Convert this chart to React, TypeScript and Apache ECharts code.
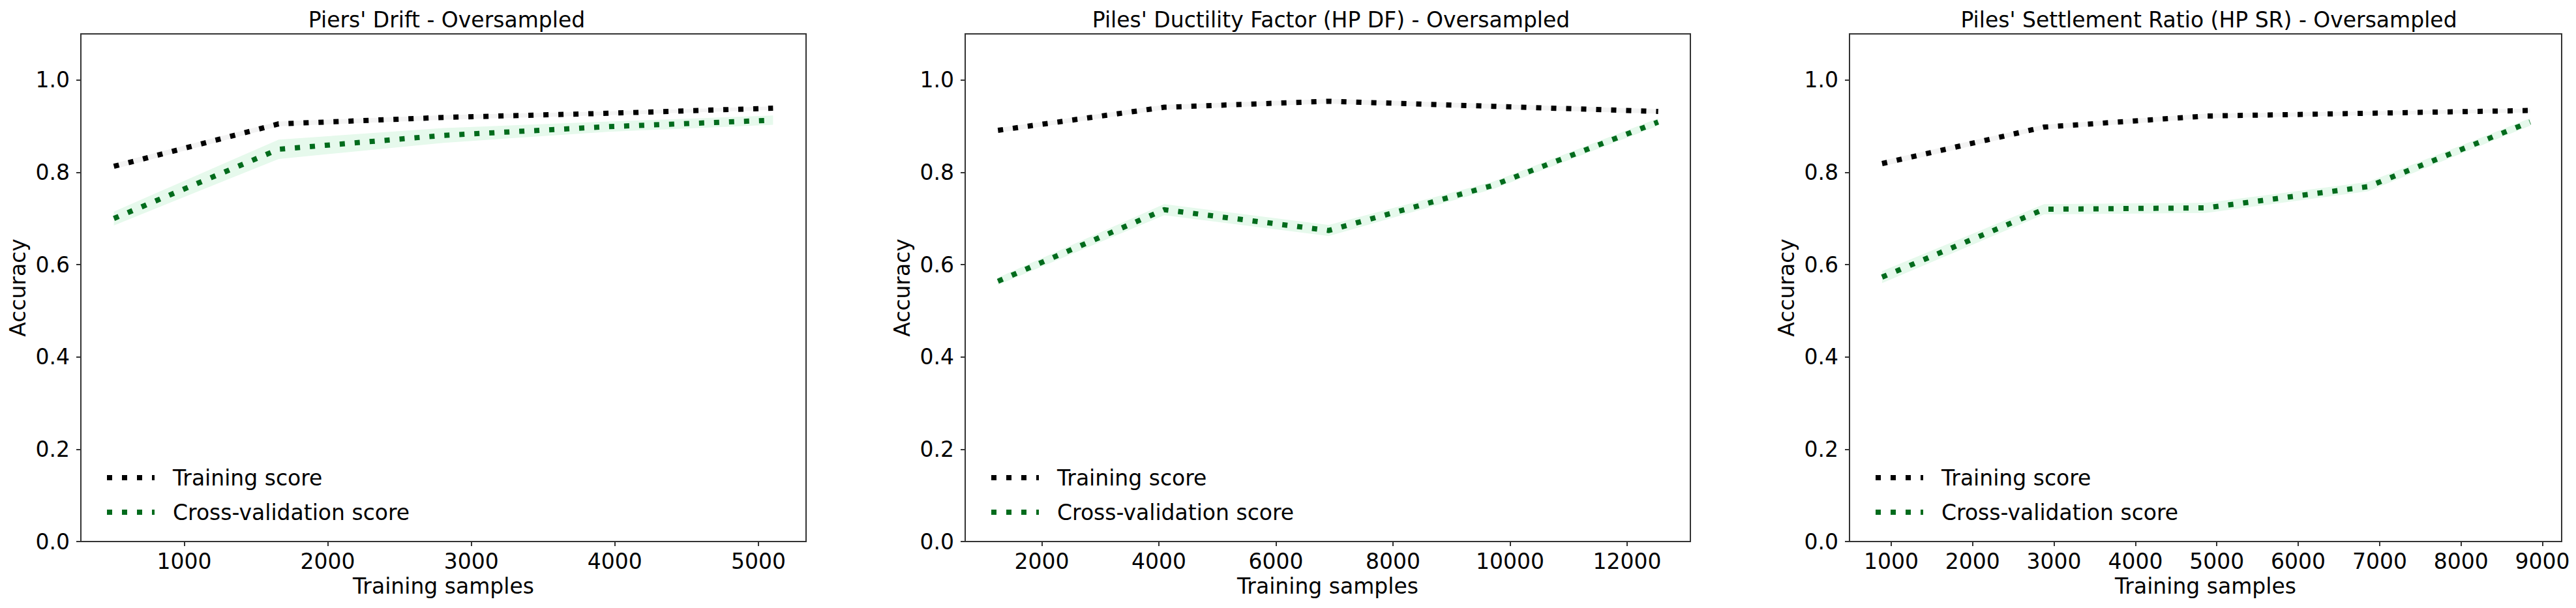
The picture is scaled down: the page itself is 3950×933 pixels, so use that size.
import React, { useEffect, useRef } from 'react';
import * as echarts from 'echarts';

// ---- texts ----
const panelTitles = [
  "Piers' Drift - Oversampled",
  "Piles' Ductility Factor (HP DF) - Oversampled",
  "Piles' Settlement Ratio (HP SR) - Oversampled",
];
const seriesNames = ['Training score', 'Cross-validation score'];
const xAxisTitle = 'Training samples';
const yAxisTitle = 'Accuracy';

// ---- panel 1: Piers' Drift ----
const piersSizes = [510, 1658, 2806, 3954, 5102];
const piersTrain = [0.813, 0.905, 0.919, 0.928, 0.939];
const piersTrainStd = [0.006, 0.005, 0.005, 0.004, 0.004];
const piersCv = [0.700, 0.850, 0.880, 0.899, 0.913];
const piersCvStd = [0.015, 0.021, 0.016, 0.011, 0.010];
const piersTicks = [1000, 2000, 3000, 4000, 5000];

// ---- panel 2: Piles' Ductility Factor ----
const ductSizes = [1250, 4090, 6900, 9715, 12530];
const ductTrain = [0.891, 0.941, 0.954, 0.943, 0.932];
const ductTrainStd = [0.005, 0.005, 0.005, 0.005, 0.005];
const ductCv = [0.564, 0.719, 0.674, 0.772, 0.909];
const ductCvStd = [0.008, 0.012, 0.012, 0.008, 0.008];
const ductTicks = [2000, 4000, 6000, 8000, 10000, 12000];

// ---- panel 3: Piles' Settlement Ratio ----
const settSizes = [888, 2878, 4868, 6858, 8848];
const settTrain = [0.819, 0.898, 0.922, 0.928, 0.934];
const settTrainStd = [0.006, 0.005, 0.005, 0.004, 0.004];
const settCv = [0.573, 0.720, 0.723, 0.769, 0.909];
const settCvStd = [0.013, 0.011, 0.011, 0.010, 0.008];
const settTicks = [1000, 2000, 3000, 4000, 5000, 6000, 7000, 8000, 9000];

const yTicks = [0, 0.2, 0.4, 0.6, 0.8, 1.0];

// ---- layout / style ----
const W = 3950;
const H = 933;
const FONT = 'DejaVu Sans';
const FS = 33;
const AXIS_COLOR = '#333333';
const TRAIN_COLOR = '#000000';
const CV_COLOR = '#006b1c';
const TRAIN_BAND = '#f3f3f3';
const CV_BAND = '#e6f9ec';
const LINE_W = 8;
const DASH = [8, 15];
const seriesColors = [TRAIN_COLOR, CV_COLOR];

const panels = [
  { sizes: piersSizes, train: piersTrain, trainStd: piersTrainStd, cv: piersCv, cvStd: piersCvStd, ticks: piersTicks, xmin: 280, xmax: 5332, left: 124, width: 1112 },
  { sizes: ductSizes, train: ductTrain, trainStd: ductTrainStd, cv: ductCv, cvStd: ductCvStd, ticks: ductTicks, xmin: 690, xmax: 13080, left: 1480, width: 1112 },
  { sizes: settSizes, train: settTrain, trainStd: settTrainStd, cv: settCv, cvStd: settCvStd, ticks: settTicks, xmin: 488, xmax: 9236, left: 2836, width: 1092 },
];
const GRID_TOP = 52;
const GRID_H = 779;

function bandSeries(idx: number, xs: number[], mean: number[], std: number[], color: string) {
  const data = xs.map((x, i) => [x, mean[i] - std[i], mean[i] + std[i]]);
  return {
    type: 'custom',
    xAxisIndex: idx,
    yAxisIndex: idx,
    silent: true,
    z: 1,
    data,
    encode: { x: 0, y: [1, 2] },
    renderItem: (params: any, api: any) => {
      if (params.dataIndex !== 0) return null;
      const upper = data.map((d) => api.coord([d[0], d[2]]));
      const lower = data.map((d) => api.coord([d[0], d[1]])).reverse();
      return {
        type: 'polygon',
        shape: { points: upper.concat(lower) },
        style: { fill: color, stroke: 'none' },
      };
    },
  };
}

function lineSeries(idx: number, name: string, xs: number[], vals: number[], color: string) {
  return {
    type: 'line',
    name,
    xAxisIndex: idx,
    yAxisIndex: idx,
    data: xs.map((x, i) => [x, vals[i]]),
    symbol: 'none',
    silent: true,
    z: 3,
    itemStyle: { color },
    lineStyle: { color, width: LINE_W, type: DASH, cap: 'butt', join: 'miter' },
  };
}

function buildOption() {
  const textBase = { fontFamily: FONT, fontSize: FS, color: '#000' };
  const grid: any[] = [];
  const xAxis: any[] = [];
  const yAxis: any[] = [];
  const title: any[] = [];
  const legend: any[] = [];
  const series: any[] = [];

  panels.forEach((p, i) => {
    grid.push({
      left: p.left,
      top: GRID_TOP,
      width: p.width,
      height: GRID_H,
      show: true,
      borderColor: AXIS_COLOR,
      borderWidth: 2,
      backgroundColor: 'transparent',
      containLabel: false,
    });
    xAxis.push({
      type: 'value',
      gridIndex: i,
      min: p.xmin,
      max: p.xmax,
      name: xAxisTitle,
      nameLocation: 'middle',
      nameGap: 52,
      nameTextStyle: { ...textBase },
      axisLine: { show: true, lineStyle: { color: AXIS_COLOR, width: 2 } },
      axisTick: { show: true, inside: false, length: 7, lineStyle: { color: AXIS_COLOR, width: 2 }, customValues: p.ticks },
      axisLabel: { ...textBase, margin: 14, customValues: p.ticks, formatter: (v: number) => String(Math.round(v)) },
      splitLine: { show: false },
    });
    yAxis.push({
      type: 'value',
      gridIndex: i,
      min: 0,
      max: 1.1,
      name: yAxisTitle,
      nameLocation: 'middle',
      nameGap: 80,
      nameTextStyle: { ...textBase },
      axisLine: { show: true, lineStyle: { color: AXIS_COLOR, width: 2 } },
      axisTick: { show: true, inside: false, length: 7, lineStyle: { color: AXIS_COLOR, width: 2 }, customValues: yTicks },
      axisLabel: { ...textBase, margin: 17, customValues: yTicks, formatter: (v: number) => v.toFixed(1) },
      splitLine: { show: false },
    });
    title.push({
      text: panelTitles[i],
      left: p.left + p.width / 2,
      top: 9,
      textAlign: 'center',
      textStyle: { ...textBase, fontWeight: 'normal' },
    });
    legend.push({
      data: seriesNames.map((name, k) => ({
        name,
        itemStyle: { opacity: 0 },
        lineStyle: { color: seriesColors[k], width: LINE_W, type: DASH, cap: 'butt', opacity: 1 },
      })),
      orient: 'vertical',
      left: p.left + 31,
      top: 710,
      itemWidth: 73,
      itemHeight: 8,
      itemGap: 17,
      selectedMode: false,
      itemStyle: { opacity: 0 },
      textStyle: { ...textBase, lineHeight: 36, padding: [0, 0, 0, 23] },
    });
    series.push(bandSeries(i, p.sizes, p.train, p.trainStd, TRAIN_BAND));
    series.push(bandSeries(i, p.sizes, p.cv, p.cvStd, CV_BAND));
    series.push(lineSeries(i, seriesNames[0], p.sizes, p.train, TRAIN_COLOR));
    series.push(lineSeries(i, seriesNames[1], p.sizes, p.cv, CV_COLOR));
  });

  return {
    animation: false,
    backgroundColor: '#ffffff',
    textStyle: { fontFamily: FONT },
    title,
    legend,
    grid,
    xAxis,
    yAxis,
    series,
  };
}

export default function App() {
  const ref = useRef<HTMLDivElement>(null);
  useEffect(() => {
    document.body.style.margin = '0';
    if (!ref.current) return;
    const chart = echarts.init(ref.current, undefined, { renderer: 'svg' });
    chart.setOption(buildOption() as any);
    return () => chart.dispose();
  }, []);
  return <div ref={ref} style={{ width: W, height: H, position: 'absolute', left: 0, top: 0 }} />;
}
